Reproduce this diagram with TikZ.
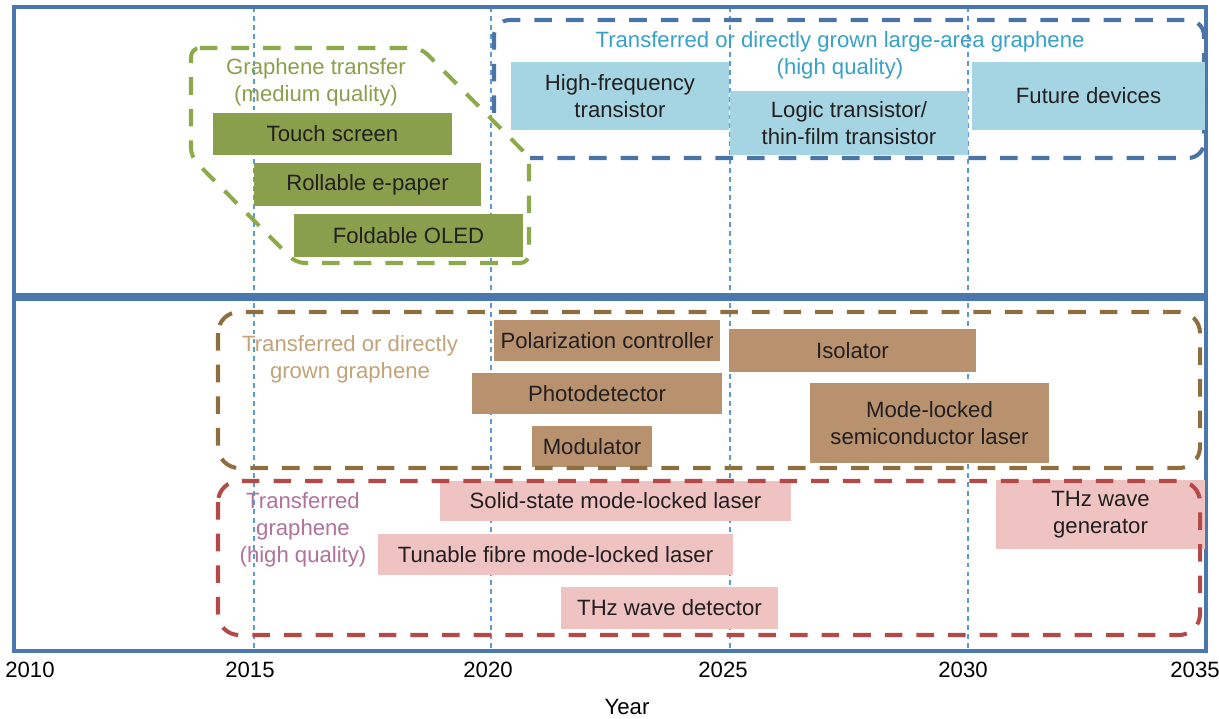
\documentclass[tikz,border=0pt]{standalone}
\usepackage{fontspec}
\setmainfont{Liberation Sans}
\definecolor{frameblue}{HTML}{4A77AE}
\definecolor{gridblue}{HTML}{5B9BD5}
\definecolor{ink}{HTML}{231F20}
\definecolor{olive}{HTML}{8A9F4B}
\definecolor{oliveline}{HTML}{8CAA4C}
\definecolor{sky}{HTML}{A5D5E3}
\definecolor{skyline}{HTML}{4A74A6}
\definecolor{skytext}{HTML}{36A0C8}
\definecolor{umber}{HTML}{B8926E}
\definecolor{umberline}{HTML}{8E6E3E}
\definecolor{umbertext}{HTML}{C2A278}
\definecolor{blush}{HTML}{EEC3C2}
\definecolor{brick}{HTML}{B34A47}
\definecolor{mauve}{HTML}{B0719A}
\tikzset{
  app/.style={rectangle, inner sep=0pt, align=center, text=ink},
  wh/.style 2 args={minimum width=#1*0.02cm, minimum height=#2*0.02cm},
  greenapp/.style={app, fill=olive},
  skyapp/.style={app, fill=sky},
  umberapp/.style={app, fill=umber},
  blushapp/.style={app, fill=blush},
  grouprim/.style={line width=2.3pt, dash pattern=on 10pt off 8pt},
  yearline/.style={gridblue, line width=0.75pt, dash pattern=on 2.8pt off 2.3pt},
}

\begin{document}
\begin{tikzpicture}[x=0.02cm,y=-0.02cm,font=\fontsize{12.6}{15.4}\selectfont]
  \useasboundingbox (0,0) rectangle (1219,719);
  % year grid
  \foreach \x in {254,491,730,968}
    \draw[yearline] (\x,7) -- (\x,651);
  % the two panels
  \draw[frameblue,line width=2pt] (14,7) rectangle (1206,295);
  \draw[frameblue,line width=2pt] (14,299) rectangle (1206,651);
  % top panel: group outlines
  \draw[grouprim,oliveline,rounded corners=5pt] (191,48) -- (421,48) -- (529,157) -- (529,263) -- (296,263) -- (191,157) -- cycle;
  \draw[grouprim,skyline,rounded corners=9pt] (494,113) -- (494,20) -- (1204,20) -- (1204,158) -- (530,158);
  \node[text=olive,align=center] (transferlab) at (316,82) {Graphene transfer\\(medium quality)};
  \node[text=skytext,align=center] (largelab) at (840,55) {Transferred or directly grown large-area graphene\\(high quality)};
  % display applications
  \node[greenapp,wh={239}{42}] (touch) at (332.5,134) {Touch screen};
  \node[greenapp,wh={227}{43}] (epaper) at (367.5,184.5) {Rollable e-paper};
  \node[greenapp,wh={229}{43}] (oled) at (408.5,235.5) {Foldable OLED};
  % electronics
  \node[skyapp,wh={218}{68}] (hf) at (620,96) {High-frequency\\transistor};
  \node[skyapp,wh={238}{64}] (logic) at (849,123) {Logic transistor/\\thin-film transistor};
  \node[skyapp,wh={233}{68}] (future) at (1088.5,96) {Future devices};
  % bottom panel: photonics
  \node[text=umbertext,align=center] (umberlab) at (350,359) {Transferred or directly\\grown graphene};
  \node[umberapp,wh={226}{41}] (polar) at (607,340.5) {Polarization controller};
  \node[umberapp,wh={250}{41}] (photo) at (597,393.5) {Photodetector};
  \node[umberapp,wh={120}{41}] (modul) at (592,446.5) {Modulator};
  \node[umberapp,wh={247}{43}] (isol) at (852.5,350.5) {Isolator};
  \node[umberapp,wh={239}{80}] (semilaser) at (929.5,423) {Mode-locked\\semiconductor laser};
  \node[text=mauve,align=center] (blushlab) at (303,530) {Transferred\\graphene\\(high quality)};
  \node[blushapp,wh={351}{40}] (solid) at (615.5,501) {Solid-state mode-locked laser};
  \node[blushapp,wh={355}{41}] (fibre) at (555.5,554.5) {Tunable fibre mode-locked laser};
  \node[blushapp,wh={217}{42}] (thzdet) at (669.5,608) {THz wave detector};
  \node[blushapp,wh={209}{69}] (thzgen) at (1100.5,514.5) {THz wave\\generator};
  \draw[grouprim,umberline,rounded corners=12pt] (218,312) rectangle (1200,468);
  \draw[grouprim,brick,rounded corners=12pt] (218,481) rectangle (1200,635);
  % axis labels
  \foreach \yr/\x in {2010/30,2015/250,2020/488,2025/723,2030/963,2035/1195}
    \node (yr\yr) at (\x,670) {\yr};
  \node (yearlab) at (627,707) {Year};
\end{tikzpicture}
\end{document}
